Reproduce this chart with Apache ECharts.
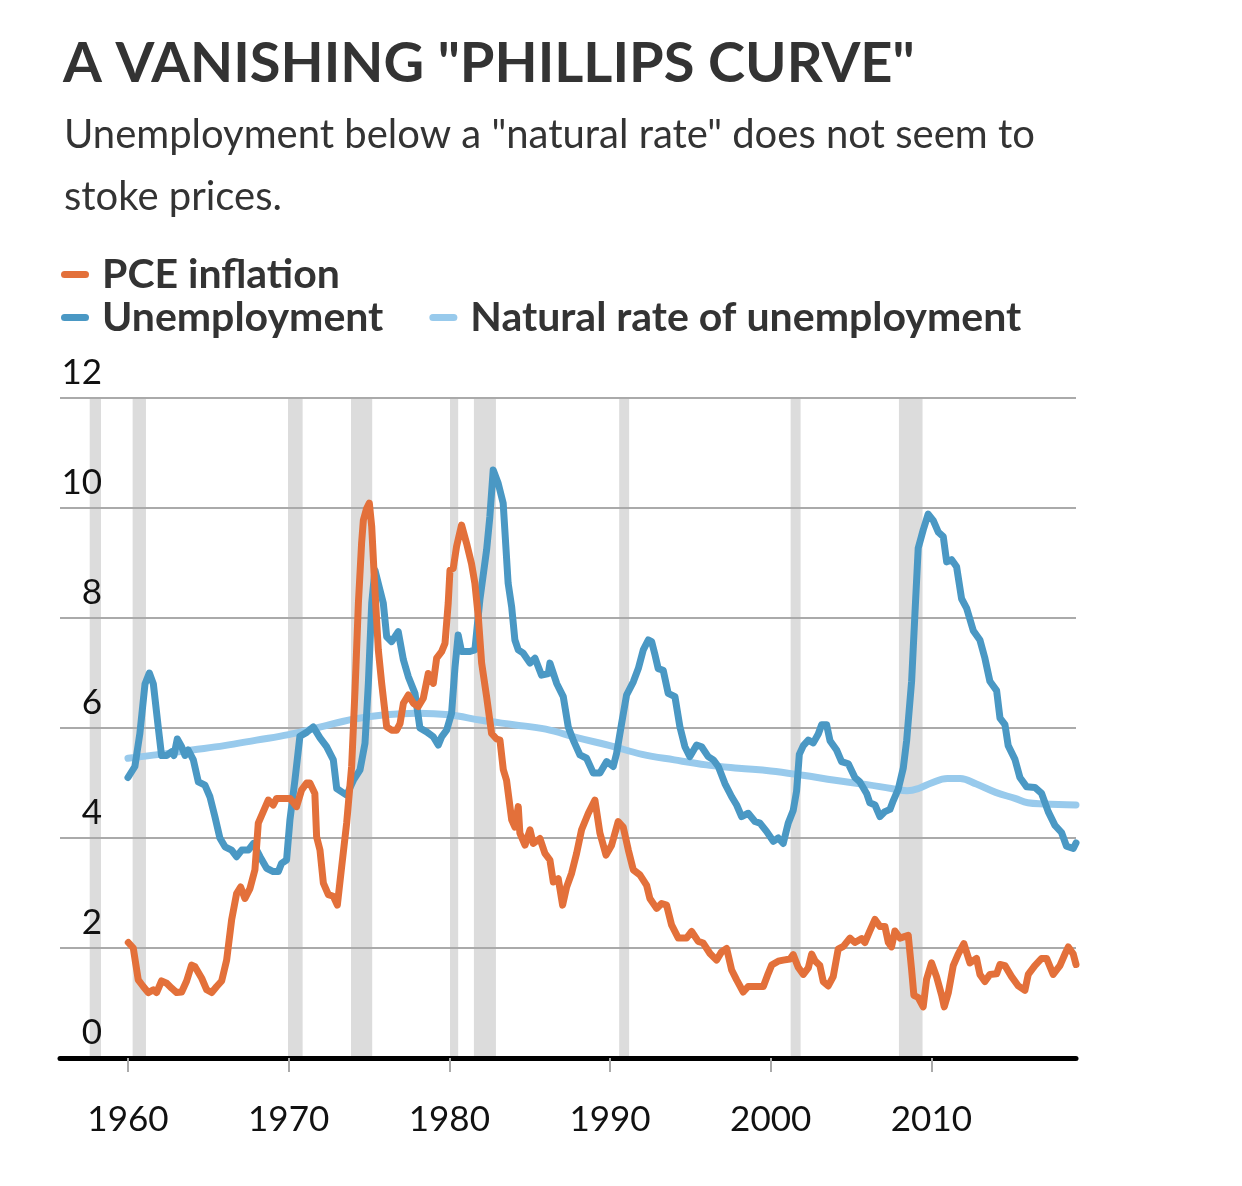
<!DOCTYPE html>
<html lang="en">
<head>
<meta charset="utf-8">
<title>A vanishing Phillips curve</title>
<script src="https://cdn.jsdelivr.net/npm/echarts@6/dist/echarts.min.js"></script>
<style>
  html, body { margin: 0; padding: 0; background: #fff; }
  #chart { width: 1242px; height: 1186px; }
</style>
</head>
<body>
<div id="chart"></div>
<script>
// values, [decimal year, percent]
var pceInflation = [
  [1960.02,2.1],[1960.33,2.0],[1960.64,1.42],[1960.95,1.3],[1961.26,1.19],[1961.58,1.24],[1961.78,1.19],
  [1962.09,1.4],[1962.41,1.36],[1962.72,1.27],[1963.03,1.19],[1963.34,1.2],[1963.65,1.4],[1963.96,1.69],
  [1964.17,1.66],[1964.59,1.45],[1964.9,1.24],[1965.21,1.19],[1965.52,1.3],[1965.83,1.4],[1966.14,1.78],
  [1966.45,2.51],[1966.76,2.99],[1967.01,3.11],[1967.28,2.9],[1967.59,3.08],[1967.9,3.42],[1968.11,4.27],
  [1968.42,4.48],[1968.73,4.69],[1969.04,4.6],[1969.25,4.72],[1969.66,4.72],[1970.08,4.72],[1970.49,4.57],
  [1970.8,4.87],[1971.12,5.0],[1971.32,5.0],[1971.63,4.81],[1971.74,4.02],[1971.95,3.78],[1972.16,3.18],
  [1972.47,2.97],[1972.78,2.94],[1973.03,2.78],[1973.3,3.48],[1973.61,4.27],[1973.92,5.3],[1974.13,6.69],
  [1974.34,8.27],[1974.54,9.36],[1974.65,9.78],[1974.85,9.99],[1975.02,10.09],[1975.17,9.66],[1975.37,8.51],
  [1975.58,7.42],[1975.79,6.81],[1976.1,6.02],[1976.41,5.96],[1976.72,5.96],[1976.93,6.08],[1977.14,6.45],
  [1977.45,6.6],[1977.76,6.45],[1978.07,6.39],[1978.38,6.54],[1978.69,6.99],[1979.0,6.81],[1979.21,7.27],
  [1979.52,7.39],[1979.73,7.54],[1979.93,8.27],[1980.04,8.87],[1980.24,8.9],[1980.45,9.3],[1980.76,9.69],
  [1981.07,9.36],[1981.38,8.99],[1981.59,8.63],[1981.8,8.03],[1982.01,7.18],[1982.32,6.57],[1982.63,5.9],
  [1982.94,5.8],[1983.15,5.78],[1983.36,5.24],[1983.56,5.05],[1983.88,4.33],[1984.08,4.2],[1984.29,4.57],
  [1984.39,4.09],[1984.71,3.87],[1985.02,4.15],[1985.22,3.9],[1985.64,3.99],[1985.95,3.72],[1986.26,3.6],
  [1986.47,3.2],[1986.78,3.26],[1987.05,2.78],[1987.3,3.11],[1987.61,3.36],[1987.92,3.72],[1988.23,4.15],
  [1988.65,4.45],[1989.06,4.69],[1989.37,4.09],[1989.75,3.69],[1990.1,3.87],[1990.51,4.3],[1990.82,4.2],
  [1991.14,3.78],[1991.45,3.42],[1991.86,3.33],[1992.28,3.14],[1992.48,2.9],[1992.9,2.72],[1993.21,2.81],
  [1993.52,2.78],[1993.83,2.42],[1994.25,2.18],[1994.76,2.18],[1995.08,2.3],[1995.49,2.12],[1995.8,2.09],
  [1996.22,1.9],[1996.63,1.78],[1996.94,1.93],[1997.26,1.99],[1997.57,1.6],[1997.88,1.42],[1998.29,1.2],
  [1998.6,1.3],[1999.12,1.3],[1999.54,1.3],[1999.85,1.54],[2000.06,1.69],[2000.47,1.76],[2000.78,1.78],
  [2001.2,1.8],[2001.4,1.88],[2001.71,1.65],[2002.03,1.52],[2002.34,1.64],[2002.55,1.89],[2002.75,1.77],
  [2003.06,1.68],[2003.27,1.39],[2003.58,1.31],[2003.89,1.48],[2004.2,1.98],[2004.52,2.03],[2004.93,2.18],
  [2005.24,2.1],[2005.66,2.17],[2005.86,2.1],[2006.17,2.31],[2006.49,2.52],[2006.8,2.39],[2007.11,2.39],
  [2007.32,2.1],[2007.52,2.02],[2007.73,2.31],[2008.04,2.18],[2008.56,2.23],[2008.77,1.6],[2008.91,1.14],
  [2009.18,1.1],[2009.49,0.93],[2009.7,1.43],[2010.01,1.73],[2010.32,1.48],[2010.64,1.14],[2010.8,0.93],
  [2011.05,1.18],[2011.36,1.68],[2011.67,1.89],[2012.02,2.08],[2012.4,1.73],[2012.81,1.81],[2013.02,1.52],
  [2013.33,1.39],[2013.64,1.52],[2014.06,1.53],[2014.27,1.7],[2014.58,1.68],[2014.99,1.48],[2015.41,1.31],
  [2015.82,1.23],[2016.03,1.52],[2016.44,1.68],[2016.86,1.81],[2017.17,1.81],[2017.58,1.52],[2018.0,1.68],
  [2018.31,1.89],[2018.52,2.02],[2018.83,1.89],[2019.0,1.7]
];

var unemployment = [
  [1960.0,5.1],[1960.43,5.3],[1960.74,5.9],[1961.06,6.8],[1961.33,7.0],[1961.58,6.8],[1961.89,6.0],
  [1962.09,5.5],[1962.41,5.5],[1962.72,5.57],[1962.86,5.5],[1963.07,5.8],[1963.34,5.66],[1963.55,5.5],
  [1963.75,5.6],[1964.07,5.42],[1964.38,5.02],[1964.79,4.96],[1965.1,4.75],[1965.41,4.39],[1965.72,4.0],
  [1966.04,3.84],[1966.45,3.78],[1966.76,3.66],[1967.08,3.78],[1967.49,3.78],[1967.8,3.9],[1968.22,3.66],
  [1968.63,3.45],[1969.04,3.39],[1969.36,3.39],[1969.56,3.54],[1969.87,3.6],[1970.08,4.33],[1970.39,5.05],
  [1970.7,5.85],[1971.12,5.92],[1971.53,6.02],[1971.95,5.82],[1972.36,5.66],[1972.78,5.42],[1972.99,4.9],
  [1973.3,4.84],[1973.61,4.78],[1974.03,5.05],[1974.44,5.24],[1974.75,5.72],[1974.96,6.81],[1975.17,8.27],
  [1975.37,8.87],[1975.68,8.51],[1975.89,8.27],[1976.1,7.66],[1976.41,7.57],[1976.82,7.75],[1977.14,7.24],
  [1977.45,6.93],[1977.86,6.63],[1978.17,6.0],[1978.59,5.93],[1979.0,5.84],[1979.31,5.69],[1979.52,5.84],
  [1979.83,5.96],[1980.14,6.27],[1980.35,7.1],[1980.55,7.69],[1980.76,7.39],[1981.28,7.39],[1981.59,7.42],
  [1981.9,8.33],[1982.32,9.24],[1982.52,9.84],[1982.73,10.69],[1983.04,10.45],[1983.35,10.09],[1983.66,8.63],
  [1983.88,8.2],[1984.08,7.6],[1984.29,7.42],[1984.6,7.36],[1985.02,7.18],[1985.33,7.27],[1985.74,6.96],
  [1986.16,6.99],[1986.26,7.18],[1986.68,6.81],[1987.09,6.57],[1987.4,6.02],[1987.71,5.78],[1988.13,5.51],
  [1988.54,5.45],[1988.96,5.18],[1989.37,5.18],[1989.79,5.39],[1990.2,5.3],[1990.41,5.54],[1990.72,6.08],
  [1991.03,6.6],[1991.45,6.84],[1991.76,7.08],[1992.07,7.42],[1992.38,7.6],[1992.59,7.57],[1992.8,7.33],
  [1993.0,7.08],[1993.31,7.05],[1993.62,6.63],[1994.04,6.57],[1994.35,6.02],[1994.66,5.66],[1994.97,5.48],
  [1995.39,5.69],[1995.7,5.66],[1996.11,5.48],[1996.43,5.42],[1996.74,5.3],[1997.15,4.99],[1997.57,4.75],
  [1997.88,4.6],[1998.19,4.39],[1998.6,4.45],[1999.02,4.3],[1999.33,4.27],[1999.74,4.12],[2000.16,3.94],
  [2000.47,4.0],[2000.78,3.9],[2001.09,4.27],[2001.4,4.5],[2001.61,4.85],[2001.78,5.52],[2002.03,5.68],
  [2002.34,5.78],[2002.65,5.73],[2002.96,5.89],[2003.17,6.06],[2003.48,6.06],[2003.69,5.77],[2004.1,5.6],
  [2004.41,5.39],[2004.83,5.35],[2005.24,5.1],[2005.55,5.02],[2005.97,4.81],[2006.17,4.64],[2006.49,4.6],
  [2006.8,4.39],[2007.11,4.48],[2007.42,4.52],[2007.63,4.68],[2007.94,4.89],[2008.25,5.27],[2008.46,5.77],
  [2008.77,6.85],[2008.98,8.1],[2009.18,9.27],[2009.49,9.6],[2009.8,9.89],[2010.12,9.77],[2010.43,9.56],
  [2010.74,9.48],[2010.95,9.02],[2011.26,9.06],[2011.57,8.93],[2011.88,8.35],[2012.19,8.18],[2012.61,7.77],
  [2013.02,7.6],[2013.33,7.27],[2013.64,6.85],[2014.06,6.68],[2014.27,6.18],[2014.58,6.06],[2014.78,5.68],
  [2015.2,5.43],[2015.51,5.1],[2015.93,4.93],[2016.44,4.92],[2016.86,4.81],[2017.27,4.48],[2017.69,4.23],
  [2018.1,4.1],[2018.41,3.85],[2018.83,3.81],[2019.0,3.91]
];

var naturalRate = [
  [1960,5.45],[1962,5.52],[1964,5.6],[1966,5.68],[1968,5.78],[1970,5.88],[1972,6.02],[1974,6.16],
  [1976,6.24],[1978,6.27],[1980,6.24],[1982,6.14],[1984,6.06],[1986,5.98],[1988,5.82],[1990,5.68],
  [1992,5.52],[1994,5.42],[1996,5.33],[1998,5.27],[2000,5.22],[2002,5.14],[2004,5.05],[2006,4.97],
  [2007.5,4.9],[2008.5,4.86],[2009.2,4.9],[2010,5.0],[2011,5.08],[2011.8,5.08],[2012.8,4.98],
  [2014,4.83],[2015.2,4.72],[2016,4.64],[2017,4.62],[2019,4.6]
];

// recessions, [start, end]
var recessions = [
  [1957.62,1958.32],[1960.29,1961.12],[1969.96,1970.87],[1973.88,1975.2],[1980.04,1980.55],
  [1981.53,1982.9],[1990.57,1991.19],[2001.24,2001.86],[2007.98,2009.45]
];

var yearTicks = [1960, 1970, 1980, 1990, 2000, 2010];

var colors = { pce: '#e3703a', unemp: '#4a98c4', natural: '#98caec' };
var legendIcon = 'path://M3.5,0 L24.5,0 A3.5,3.5 0 0 1 24.5,7 L3.5,7 A3.5,3.5 0 0 1 3.5,0 Z';
var fontFamily = 'Lato, "Noto Sans", sans-serif';

var myChart = echarts.init(document.getElementById('chart'));

var option = {
    animation: false,
    backgroundColor: '#fff',
    textStyle: { fontFamily: fontFamily },
    title: [{
        text: 'A VANISHING "PHILLIPS CURVE"',
        left: 58,
        top: 31,
        textStyle: { fontSize: 56, fontWeight: 'bold', color: '#333', fontFamily: fontFamily }
    }, {
        text: 'Unemployment below a "natural rate" does not seem to\nstoke prices.',
        left: 59,
        top: 99,
        textStyle: { fontSize: 40, fontWeight: 'normal', color: '#333', lineHeight: 62, fontFamily: fontFamily }
    }],
    legend: [{
        data: ['PCE inflation'],
        left: 56,
        top: 249,
        icon: legendIcon,
        itemWidth: 28,
        itemHeight: 7,
        textStyle: { fontSize: 41, fontWeight: 'bold', color: '#333', padding: [0, 0, 0, 8] }
    }, {
        data: ['Unemployment', 'Natural rate of unemployment'],
        left: 56,
        top: 292,
        icon: legendIcon,
        itemWidth: 28,
        itemHeight: 7,
        itemGap: 46,
        textStyle: { fontSize: 41, fontWeight: 'bold', color: '#333', padding: [0, 0, 0, 8] }
    }],
    grid: { left: 60, right: 166, top: 398, bottom: 128 },
    xAxis: {
        type: 'value',
        min: 1955.77,
        max: 2019.0,
        z: 3,
        splitLine: { show: false },
        axisLine: { onZero: true, lineStyle: { color: '#000', width: 5 } },
        axisTick: { show: true, length: 14, lineStyle: { color: '#aaa', width: 2 }, customValues: yearTicks },
        axisLabel: {
            customValues: yearTicks,
            fontSize: 35,
            color: '#111',
            margin: 44,
            formatter: function (v) { return String(v); }
        }
    },
    yAxis: {
        type: 'value',
        min: 0,
        max: 12,
        interval: 2,
        z: 2,
        axisLine: { show: false },
        axisTick: { show: false },
        splitLine: { lineStyle: { color: '#aaa', width: 2 } },
        axisLabel: {
            inside: true,
            align: 'right',
            verticalAlign: 'bottom',
            margin: 42,
            padding: [0, 0, 8, 0],
            fontSize: 35,
            color: '#111'
        }
    },
    series: [{
        name: 'Recessions',
        type: 'line',
        data: [],
        z: 1,
        silent: true,
        markArea: {
            silent: true,
            itemStyle: { color: '#dcdcdc' },
            data: recessions.map(function (r) { return [{ xAxis: r[0] }, { xAxis: r[1] }]; })
        }
    }, {
        name: 'Natural rate of unemployment',
        type: 'line',
        data: naturalRate,
        smooth: 0.4,
        showSymbol: false,
        z: 4,
        color: colors.natural,
        lineStyle: { width: 7, color: colors.natural, cap: 'round' }
    }, {
        name: 'Unemployment',
        type: 'line',
        data: unemployment,
        showSymbol: false,
        z: 5,
        color: colors.unemp,
        lineStyle: { width: 7, color: colors.unemp, cap: 'round', join: 'round' }
    }, {
        name: 'PCE inflation',
        type: 'line',
        data: pceInflation,
        showSymbol: false,
        z: 6,
        color: colors.pce,
        lineStyle: { width: 7, color: colors.pce, cap: 'round', join: 'round' }
    }]
};

myChart.setOption(option);
</script>
</body>
</html>
